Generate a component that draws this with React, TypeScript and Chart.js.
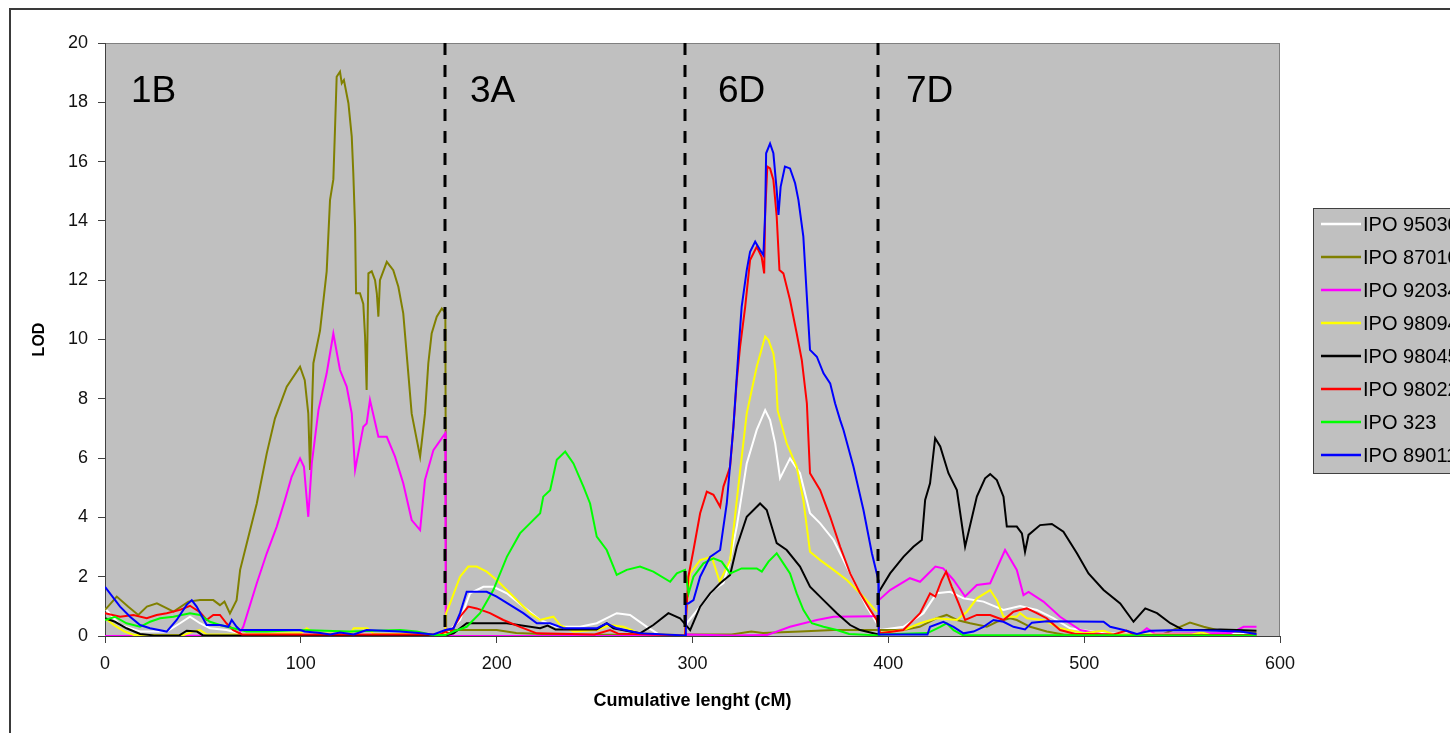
import React, { useEffect, useRef } from "react";
import { Chart, registerables } from "chart.js";

Chart.register(...registerables);

const FONT = "'Liberation Sans', Arial, sans-serif";

// ---- Series names & colours (legend order) ----
const seriesNames = ["IPO 95030", "IPO 87010", "IPO 92034", "IPO 98094", "IPO 98045", "IPO 98022", "IPO 323", "IPO 89011"];
const seriesColors = ["#FFFFFF", "#808000", "#FF00FF", "#FFFF00", "#000000", "#FF0000", "#00FF00", "#0000FF"];

// ---- Chromosome layout ----
const chromosomeNames = ["1B", "3A", "6D", "7D"];
const chromosomeLabelCm = [13.3, 186.4, 313.0, 409.0];
const chromosomeBoundaryCm = [173.8, 296.2, 394.9];

// ---- Series data: cumulative position (cM) and LOD ----
const ipo9503Cm = [0, 7.7, 17.9, 31.5, 38.3, 43.4, 48.5, 53.6, 62, 70, 100, 140, 173.8,
  176, 181.3, 186.4, 193.2, 198.3, 205.2, 213.6, 222.2, 230.7, 242.6, 251.1, 261.3, 268.1, 276.7, 283.4, 296.2,
  297, 303.9, 310.7, 315.8, 319.2, 322.6, 327.7, 332.8, 337.1, 339.6, 342.2, 344.7, 349.8, 354.9, 360, 365.2, 372, 377.1, 383.9, 389, 394.1,
  395.8, 407.7, 417.9, 424.7, 431.6, 438.4, 448.6, 458.8, 467.3, 475.8, 484.3, 492.8, 509.9, 550, 588];
const ipo9503Lod = [0.93, 0.37, 0.15, 0.15, 0.43, 0.65, 0.43, 0.26, 0.2, 0.08, 0.05, 0.05, 0.05,
  0.2, 0.54, 1.44, 1.66, 1.66, 1.44, 0.99, 0.54, 0.31, 0.31, 0.43, 0.77, 0.71, 0.31, 0.03, 0.03,
  0.43, 0.99, 1.55, 1.78, 2.56, 3.69, 5.82, 6.95, 7.62, 7.28, 6.5, 5.32, 5.99, 5.49, 4.14, 3.8, 3.24, 2.56, 1.66, 0.99, 0.43,
  0.2, 0.31, 0.77, 1.44, 1.49, 1.27, 1.16, 0.88, 1.01, 0.88, 0.6, 0.26, 0.09, 0.05, 0.08];

const ipo8701Cm = [0, 6, 11.9, 17, 21.4, 26.5, 35, 42.6, 48.5, 55.3, 58.7, 61, 63.8, 67.2, 69, 72.4, 77.5, 82.6, 86.8, 92.8, 99.6, 102, 103.8, 104.7, 106.4, 109.8, 113.2, 114.9, 116.6, 117.5, 118.3, 120, 120.9, 122, 124.3, 126, 126.8, 127.7, 128.2, 130.2, 131.9, 132.8, 133.6, 134.5, 136.2, 137.9, 138.8, 139.6, 140.4, 143.9, 147.2, 149.8, 152.3, 156.6, 160.9, 163.4, 165.1, 166.8, 169.4, 172, 173.8,
  174.2, 200, 210, 230, 296,
  297, 320, 330, 336, 355, 372, 394,
  395.8, 407.7, 416, 424.7, 429.8, 435, 441.8, 450.3, 455.4, 462.2, 465.6, 472.4, 480.9, 490, 540, 549, 554, 561, 567.8, 588];
const ipo8701Lod = [0.88, 1.33, 0.99, 0.71, 0.99, 1.1, 0.82, 1.16, 1.21, 1.21, 1.04, 1.16, 0.76, 1.21, 2.23, 3.13, 4.47, 6.16, 7.34, 8.41, 9.08, 8.63, 7.51, 5.6, 9.2, 10.3, 12.3, 14.7, 15.4, 17.2, 18.86, 19.03, 18.64, 18.75, 17.97, 16.84, 15.6, 13.8, 11.56, 11.56, 11.2, 10.1, 8.3, 12.23, 12.3, 12.0, 11.56, 10.77, 12.0, 12.62, 12.34, 11.78, 10.88, 7.5, 6.05, 7.5, 9.2, 10.2, 10.77, 11.05, 10.9,
  0.2, 0.2, 0.1, 0.05, 0.03,
  0.05, 0.05, 0.15, 0.1, 0.15, 0.2, 0.2,
  0.2, 0.2, 0.31, 0.6, 0.71, 0.54, 0.43, 0.31, 0.48, 0.6, 0.54, 0.31, 0.15, 0.04, 0.05, 0.31, 0.45, 0.31, 0.2, 0.1];

const ipo9203Cm = [0, 68, 70.6, 77.5, 82.6, 87.7, 91.9, 95.3, 99.6, 101.6, 103.8, 105.6, 109, 113.2, 116.6, 120, 123.4, 126, 127.7, 131.9, 133.6, 135.3, 139.6, 143.9, 148.1, 152.3, 156.6, 160.9, 163.4, 167.7, 173.8,
  174, 296,
  297, 320, 338, 349.8, 363.5, 372, 392.4, 394.9,
  395.2, 400.9, 411, 416.2, 424, 428, 433.3, 439.2, 445.2, 452, 459.6, 465.6, 469, 471.6, 479.2, 487.7, 498, 510, 528, 532, 536, 575, 581.4, 588];
const ipo9203Lod = [0, 0.02, 0.31, 1.78, 2.79, 3.69, 4.59, 5.37, 5.99, 5.71, 4.02, 5.82, 7.62, 8.86, 10.2, 8.97, 8.41, 7.51, 5.6, 7.06, 7.17, 7.96, 6.72, 6.72, 6.05, 5.15, 3.91, 3.57, 5.26, 6.27, 6.84,
  0, 0,
  0.05, 0.02, 0.03, 0.31, 0.54, 0.65, 0.67, 0.67,
  1.21, 1.55, 1.95, 1.83, 2.34, 2.28, 1.89, 1.33, 1.72, 1.78, 2.9, 2.23, 1.38, 1.49, 1.16, 0.65, 0.2, 0.05, 0.05, 0.26, 0.08, 0.1, 0.31, 0.31];

const ipo9809Cm = [0, 5, 10, 15, 40, 45, 48.5, 52, 70, 100, 103, 107, 125, 127, 134, 137, 173.8,
  174.2, 176.2, 181.3, 185.5, 189.8, 194.9, 200, 208.5, 217, 222.2, 225.6, 229, 232.4, 239.2, 251.1, 257.9, 264.7, 273.2, 296,
  297, 298.8, 303.9, 309.8, 313.9, 319.2, 323.4, 327.7, 332.8, 337.1, 338.8, 341.3, 342.5, 343.5, 348.1, 353.2, 356.6, 360, 365.2, 372, 378.8, 385.6, 393.3, 394.9,
  395.2, 407.7, 416.2, 424.7, 435, 440.1, 445.2, 452, 455.4, 458.8, 465.6, 467.3, 470.7, 479.2, 487.7, 499.6, 509.9, 515, 555, 560, 565, 588];
const ipo9809Lod = [0.6, 0.35, 0.15, 0.03, 0.03, 0.15, 0.2, 0.05, 0.05, 0.1, 0.26, 0.1, 0.05, 0.26, 0.26, 0.08, 0.05,
  0.77, 1.1, 2.0, 2.34, 2.34, 2.17, 1.89, 1.33, 0.77, 0.54, 0.6, 0.65, 0.37, 0.15, 0.2, 0.37, 0.31, 0.09, 0.02,
  1.0, 2.11, 2.56, 2.67, 1.83, 2.56, 5.04, 7.51, 9.08, 10.1, 9.98, 9.53, 8.9, 7.6, 6.5, 5.71, 4.59, 2.84, 2.56, 2.23, 1.89, 1.44, 0.88, 0.8,
  0.1, 0.2, 0.43, 0.6, 0.54, 0.82, 1.27, 1.55, 1.21, 0.65, 0.65, 0.77, 0.6, 0.54, 0.26, 0.09, 0.18, 0.05, 0.05, 0.12, 0.03, 0.03];

const ipo9804Cm = [0, 5.1, 11, 17.9, 25, 38, 41.7, 47, 50, 173.8,
  178, 184.7, 205.2, 222.2, 226, 230, 251, 256.2, 259.6, 273.2, 280, 287.7, 293.6, 296.2,
  298.8, 303.9, 309, 314.1, 319.2, 322.6, 327.7, 334.5, 337.9, 343, 348.1, 354.9, 360, 366.9, 373.7, 380.5, 385.6, 392.4, 394.9,
  395.2, 400.9, 407.7, 412.8, 417.1, 418.8, 421.3, 423.9, 426.5, 430.7, 435, 439.2, 445.2, 449.4, 452, 455.4, 458.8, 460.5, 465.6, 468.2, 469.8, 471.6, 477.5, 483.5, 489.4, 496.3, 502.2, 509.9, 518.4, 525.2, 531.2, 537.2, 544, 550.7, 561, 569.5, 578, 588];
const ipo9804Lod = [0.6, 0.48, 0.26, 0.07, 0.02, 0.02, 0.18, 0.15, 0.02, 0.02,
  0.09, 0.43, 0.43, 0.26, 0.35, 0.22, 0.22, 0.43, 0.26, 0.09, 0.37, 0.77, 0.6, 0.4,
  0.2, 0.99, 1.44, 1.78, 2.06, 3.01, 4.02, 4.47, 4.25, 3.13, 2.9, 2.34, 1.66, 1.21, 0.77, 0.37, 0.2, 0.09, 0.05,
  1.49, 2.11, 2.67, 3.01, 3.24, 4.59, 5.15, 6.67, 6.39, 5.49, 4.92, 3.01, 4.7, 5.32, 5.46, 5.26, 4.7, 3.69, 3.69, 3.46, 2.84, 3.41, 3.74, 3.78, 3.52, 2.79, 2.11, 1.55, 1.1, 0.48, 0.93, 0.77, 0.43, 0.2, 0.2, 0.22, 0.2, 0.18];

const ipo9802Cm = [0, 7.7, 14.5, 21.3, 26.4, 31.5, 38.3, 43.4, 48.5, 51.9, 55.3, 58.7, 62, 65.5, 70, 171, 173.8,
  176.2, 181.3, 185.5, 189.8, 196.6, 203.4, 211.9, 220.5, 250, 257.9, 262, 296.2,
  297.9, 300.5, 303.9, 307.3, 310.7, 314.1, 315.8, 319.2, 320.9, 322.6, 324.3, 326.9, 329.4, 332.8, 335.3, 336.6, 337.1, 338.2, 339.6, 341.3, 343, 344.4, 346.4, 349.8, 353.2, 355.8, 358.4, 360, 365.2, 370.3, 375.4, 380.5, 385.6, 390.7, 394.1,
  395.8, 407.7, 416.2, 421.3, 424, 427.3, 429.5, 432.4, 435.9, 439.2, 445.2, 452, 458.8, 463.9, 467.3, 470.7, 475.8, 480.8, 487.7, 495, 515, 521.7, 526, 588];
const ipo9802Lod = [0.77, 0.65, 0.71, 0.6, 0.71, 0.77, 0.88, 1.02, 0.8, 0.54, 0.71, 0.71, 0.43, 0.2, 0.05, 0.05, 0.15,
  0.09, 0.65, 0.99, 0.93, 0.77, 0.54, 0.31, 0.09, 0.05, 0.2, 0.08, 0.02,
  2.0, 2.9, 4.14, 4.87, 4.76, 4.36, 5.04, 5.71, 7.06, 8.6, 9.76, 11.1, 12.68, 13.13, 12.79, 12.23, 14.26, 15.83, 15.77, 15.38, 14.14, 12.34, 12.23, 11.33, 10.21, 9.31, 7.85, 5.49, 4.92, 4.02, 3.01, 2.11, 1.44, 0.88, 0.54,
  0.09, 0.2, 0.77, 1.44, 1.33, 1.89, 2.17, 1.66, 1.1, 0.54, 0.71, 0.71, 0.54, 0.82, 0.88, 0.93, 0.77, 0.6, 0.2, 0.08, 0.05, 0.18, 0.03, 0.03];

const ipo323Cm = [0, 5.1, 11, 17.9, 23, 28.1, 34.9, 43.4, 48.5, 53.6, 58.7, 65.5, 72.3, 82.6, 99.6, 125, 150.7, 159.2, 167.7, 173.8,
  178, 184.7, 191.5, 198.3, 205.2, 211.9, 217, 222.2, 223.8, 227.3, 230.7, 235, 239.2, 244.3, 247.7, 251.1, 256.2, 261.3, 266.4, 273.2, 280, 288.6, 292, 296.2,
  298, 300.5, 305.6, 310.7, 314.9, 319.2, 325.1, 332.8, 335.4, 338.8, 343, 346.4, 349.8, 353.2, 356.6, 360.9, 366.9, 373.7, 380, 394.9,
  396, 420, 426.5, 429.8, 433.3, 438, 588];
const ipo323Lod = [0.54, 0.65, 0.43, 0.31, 0.48, 0.6, 0.65, 0.77, 0.71, 0.48, 0.37, 0.26, 0.15, 0.15, 0.2, 0.15, 0.2, 0.15, 0.03, 0.03,
  0.15, 0.31, 0.77, 1.55, 2.67, 3.46, 3.8, 4.14, 4.7, 4.92, 5.94, 6.22, 5.82, 5.04, 4.47, 3.35, 2.9, 2.06, 2.23, 2.34, 2.17, 1.83, 2.11, 2.23,
  1.44, 2.0, 2.45, 2.62, 2.51, 2.11, 2.28, 2.28, 2.17, 2.51, 2.79, 2.45, 2.11, 1.44, 0.88, 0.43, 0.31, 0.2, 0.07, 0.02,
  0.05, 0.1, 0.31, 0.43, 0.2, 0.03, 0.02];

const ipo8901Cm = [0, 7.7, 12.8, 17.9, 23, 31.5, 36.6, 41.7, 44.3, 46.8, 51.9, 58.7, 63, 64.7, 67.2, 68.9, 99.6, 102, 110, 115, 120, 127, 133.6, 150.7, 160, 167.7, 173.8,
  178, 181.3, 184.7, 194.9, 200, 206.8, 213.6, 220.5, 227.3, 234.1, 251.1, 256.2, 261.3, 273.2, 296.2,
  296.6, 297.9, 300.5, 303.9, 309, 314.1, 317.5, 320.9, 323.4, 325.1, 327.7, 329.4, 332, 334.5, 336.2, 337.1, 337.6, 339.6, 341.3, 343, 343.9, 345, 347.2, 349.8, 352.4, 354.1, 356.6, 358.4, 360, 363.5, 366.9, 370.3, 372.8, 375.4, 377.1, 382.2, 387.3, 391.6, 394.9,
  395.1, 420, 421.3, 428.1, 433.3, 438.4, 443.5, 448.6, 453.7, 458.8, 463.9, 469.8, 473.3, 480.9, 509.9, 513.3, 520.2, 526.9, 533.7, 550.7, 567.8, 579.7, 588];
const ipo8901Lod = [1.66, 0.99, 0.65, 0.37, 0.26, 0.15, 0.54, 1.05, 1.21, 0.99, 0.37, 0.37, 0.31, 0.54, 0.31, 0.2, 0.2, 0.15, 0.1, 0.05, 0.12, 0.05, 0.2, 0.15, 0.1, 0.05, 0.2,
  0.26, 0.77, 1.49, 1.49, 1.33, 1.05, 0.77, 0.43, 0.43, 0.26, 0.26, 0.43, 0.26, 0.09, 0.02,
  1.1, 1.1, 1.21, 2.0, 2.67, 2.9, 4.47, 7.06, 9.53, 11.1, 12.34, 12.96, 13.3, 13.02, 12.85, 14.26, 16.28, 16.61, 16.28, 15.04, 14.2, 15.15, 15.83, 15.77, 15.27, 14.7, 13.47, 11.44, 9.65, 9.42, 8.86, 8.52, 7.85, 7.28, 6.95, 5.71, 4.25, 2.79, 1.89,
  0.05, 0.05, 0.31, 0.48, 0.31, 0.09, 0.15, 0.31, 0.54, 0.48, 0.31, 0.22, 0.45, 0.5, 0.48, 0.31, 0.2, 0.07, 0.18, 0.2, 0.18, 0.15, 0.07];

const seriesCm = [ipo9503Cm, ipo8701Cm, ipo9203Cm, ipo9809Cm, ipo9804Cm, ipo9802Cm, ipo323Cm, ipo8901Cm];
const seriesLod = [ipo9503Lod, ipo8701Lod, ipo9203Lod, ipo9809Lod, ipo9804Lod, ipo9802Lod, ipo323Lod, ipo8901Lod];

const X_TITLE = "Cumulative lenght (cM)";
const Y_TITLE = "LOD";

const framePlugin = {
  id: "frame",
  beforeDraw(chart: any) {
    const { ctx, chartArea: a } = chart;
    ctx.save();
    ctx.fillStyle = "#FFFFFF";
    ctx.fillRect(0, 0, chart.width, chart.height);
    ctx.strokeStyle = "#3a3a3a";
    ctx.lineWidth = 2;
    ctx.strokeRect(10, 9, chart.width + 40, chart.height + 40);
    ctx.fillStyle = "#C0C0C0";
    ctx.fillRect(a.left, a.top, a.right - a.left, a.bottom - a.top);
    ctx.strokeStyle = "#808080";
    ctx.lineWidth = 1;
    ctx.strokeRect(a.left + 0.5, a.top + 0.5, a.right - a.left - 1, a.bottom - a.top);
    ctx.restore();
  },
};

const overlayPlugin = {
  id: "overlay",
  afterDatasetsDraw(chart: any) {
    const { ctx, chartArea: a, scales } = chart;
    const xs = scales.x;
    ctx.save();
    // chromosome boundaries
    ctx.strokeStyle = "#000000";
    ctx.lineWidth = 3;
    ctx.setLineDash([12, 10]);
    chromosomeBoundaryCm.forEach((cm) => {
      const px = Math.round(xs.getPixelForValue(cm));
      ctx.beginPath();
      ctx.moveTo(px, a.top);
      ctx.lineTo(px, a.bottom);
      ctx.stroke();
    });
    ctx.setLineDash([]);
    // chromosome names
    ctx.fillStyle = "#000000";
    ctx.font = `37px ${FONT}`;
    ctx.textAlign = "left";
    ctx.textBaseline = "alphabetic";
    chromosomeNames.forEach((name, i) => {
      ctx.fillText(name, xs.getPixelForValue(chromosomeLabelCm[i]), a.top + 59);
    });
    ctx.restore();
  },
  afterDraw(chart: any) {
    const { ctx } = chart;
    ctx.save();
    const left = 1313;
    const top = 208;
    const bottom = 473;
    ctx.fillStyle = "#C0C0C0";
    ctx.fillRect(left, top, chart.width - left + 10, bottom - top);
    ctx.strokeStyle = "#404040";
    ctx.lineWidth = 1;
    ctx.strokeRect(left + 0.5, top + 0.5, chart.width - left + 10, bottom - top);
    ctx.font = `20px ${FONT}`;
    ctx.textBaseline = "middle";
    ctx.textAlign = "left";
    seriesNames.forEach((name, i) => {
      const y = 224 + i * 33;
      ctx.strokeStyle = seriesColors[i];
      ctx.lineWidth = 2.5;
      ctx.beginPath();
      ctx.moveTo(1321, y);
      ctx.lineTo(1361, y);
      ctx.stroke();
      ctx.fillStyle = "#000000";
      ctx.fillText(name, 1363, y + 1);
    });
    ctx.restore();
  },
};

export default function App() {
  const canvasRef = useRef<HTMLCanvasElement | null>(null);

  useEffect(() => {
    const canvas = canvasRef.current;
    if (!canvas) return;
    const datasets = seriesNames.map((name, i) => ({
      label: name,
      data: seriesCm[i].map((cm, j) => ({ x: cm, y: seriesLod[i][j] })),
      borderColor: seriesColors[i],
      backgroundColor: seriesColors[i],
      borderWidth: 2,
      showLine: true,
      pointRadius: 0,
      pointHoverRadius: 0,
      tension: 0,
      fill: false,
      order: seriesNames.length - i,
    }));
    const chart = new Chart(canvas, {
      type: "scatter",
      data: { datasets },
      options: {
        animation: false,
        responsive: false,
        devicePixelRatio: 1,
        events: [],
        layout: { padding: { left: 0, top: 43, right: 170, bottom: 0 } },
        plugins: { legend: { display: false }, tooltip: { enabled: false } },
        scales: {
          x: {
            type: "linear",
            min: 0,
            max: 600,
            ticks: { stepSize: 100, color: "#111111", font: { family: FONT, size: 18 }, padding: 10 },
            grid: { drawOnChartArea: false, drawTicks: true, tickLength: 7, color: "#404040" },
            border: { display: true, color: "#404040", width: 1 },
            title: {
              display: true,
              text: X_TITLE,
              color: "#000000",
              font: { family: FONT, size: 18, weight: "bold" },
              padding: { top: 0, bottom: 21 },
            },
            afterFit: (s: any) => {
              s.height = 97;
            },
          },
          y: {
            type: "linear",
            min: 0,
            max: 20,
            ticks: { stepSize: 2, color: "#111111", font: { family: FONT, size: 18 }, padding: 10 },
            grid: { drawOnChartArea: false, drawTicks: true, tickLength: 7, color: "#404040" },
            border: { display: true, color: "#404040", width: 1 },
            title: {
              display: true,
              text: Y_TITLE,
              color: "#000000",
              font: { family: FONT, size: 16, weight: "bold" },
              padding: { top: 30, bottom: 0 },
            },
            afterFit: (s: any) => {
              s.width = 105;
            },
          },
        },
      } as any,
      plugins: [framePlugin, overlayPlugin],
    });
    return () => chart.destroy();
  }, []);

  return (
    <div
      style={{
        position: "fixed",
        left: 0,
        top: 0,
        width: 1450,
        height: 733,
        overflow: "hidden",
        background: "#FFFFFF",
      }}
    >
      <canvas ref={canvasRef} width={1450} height={733} style={{ display: "block" }} />
    </div>
  );
}
